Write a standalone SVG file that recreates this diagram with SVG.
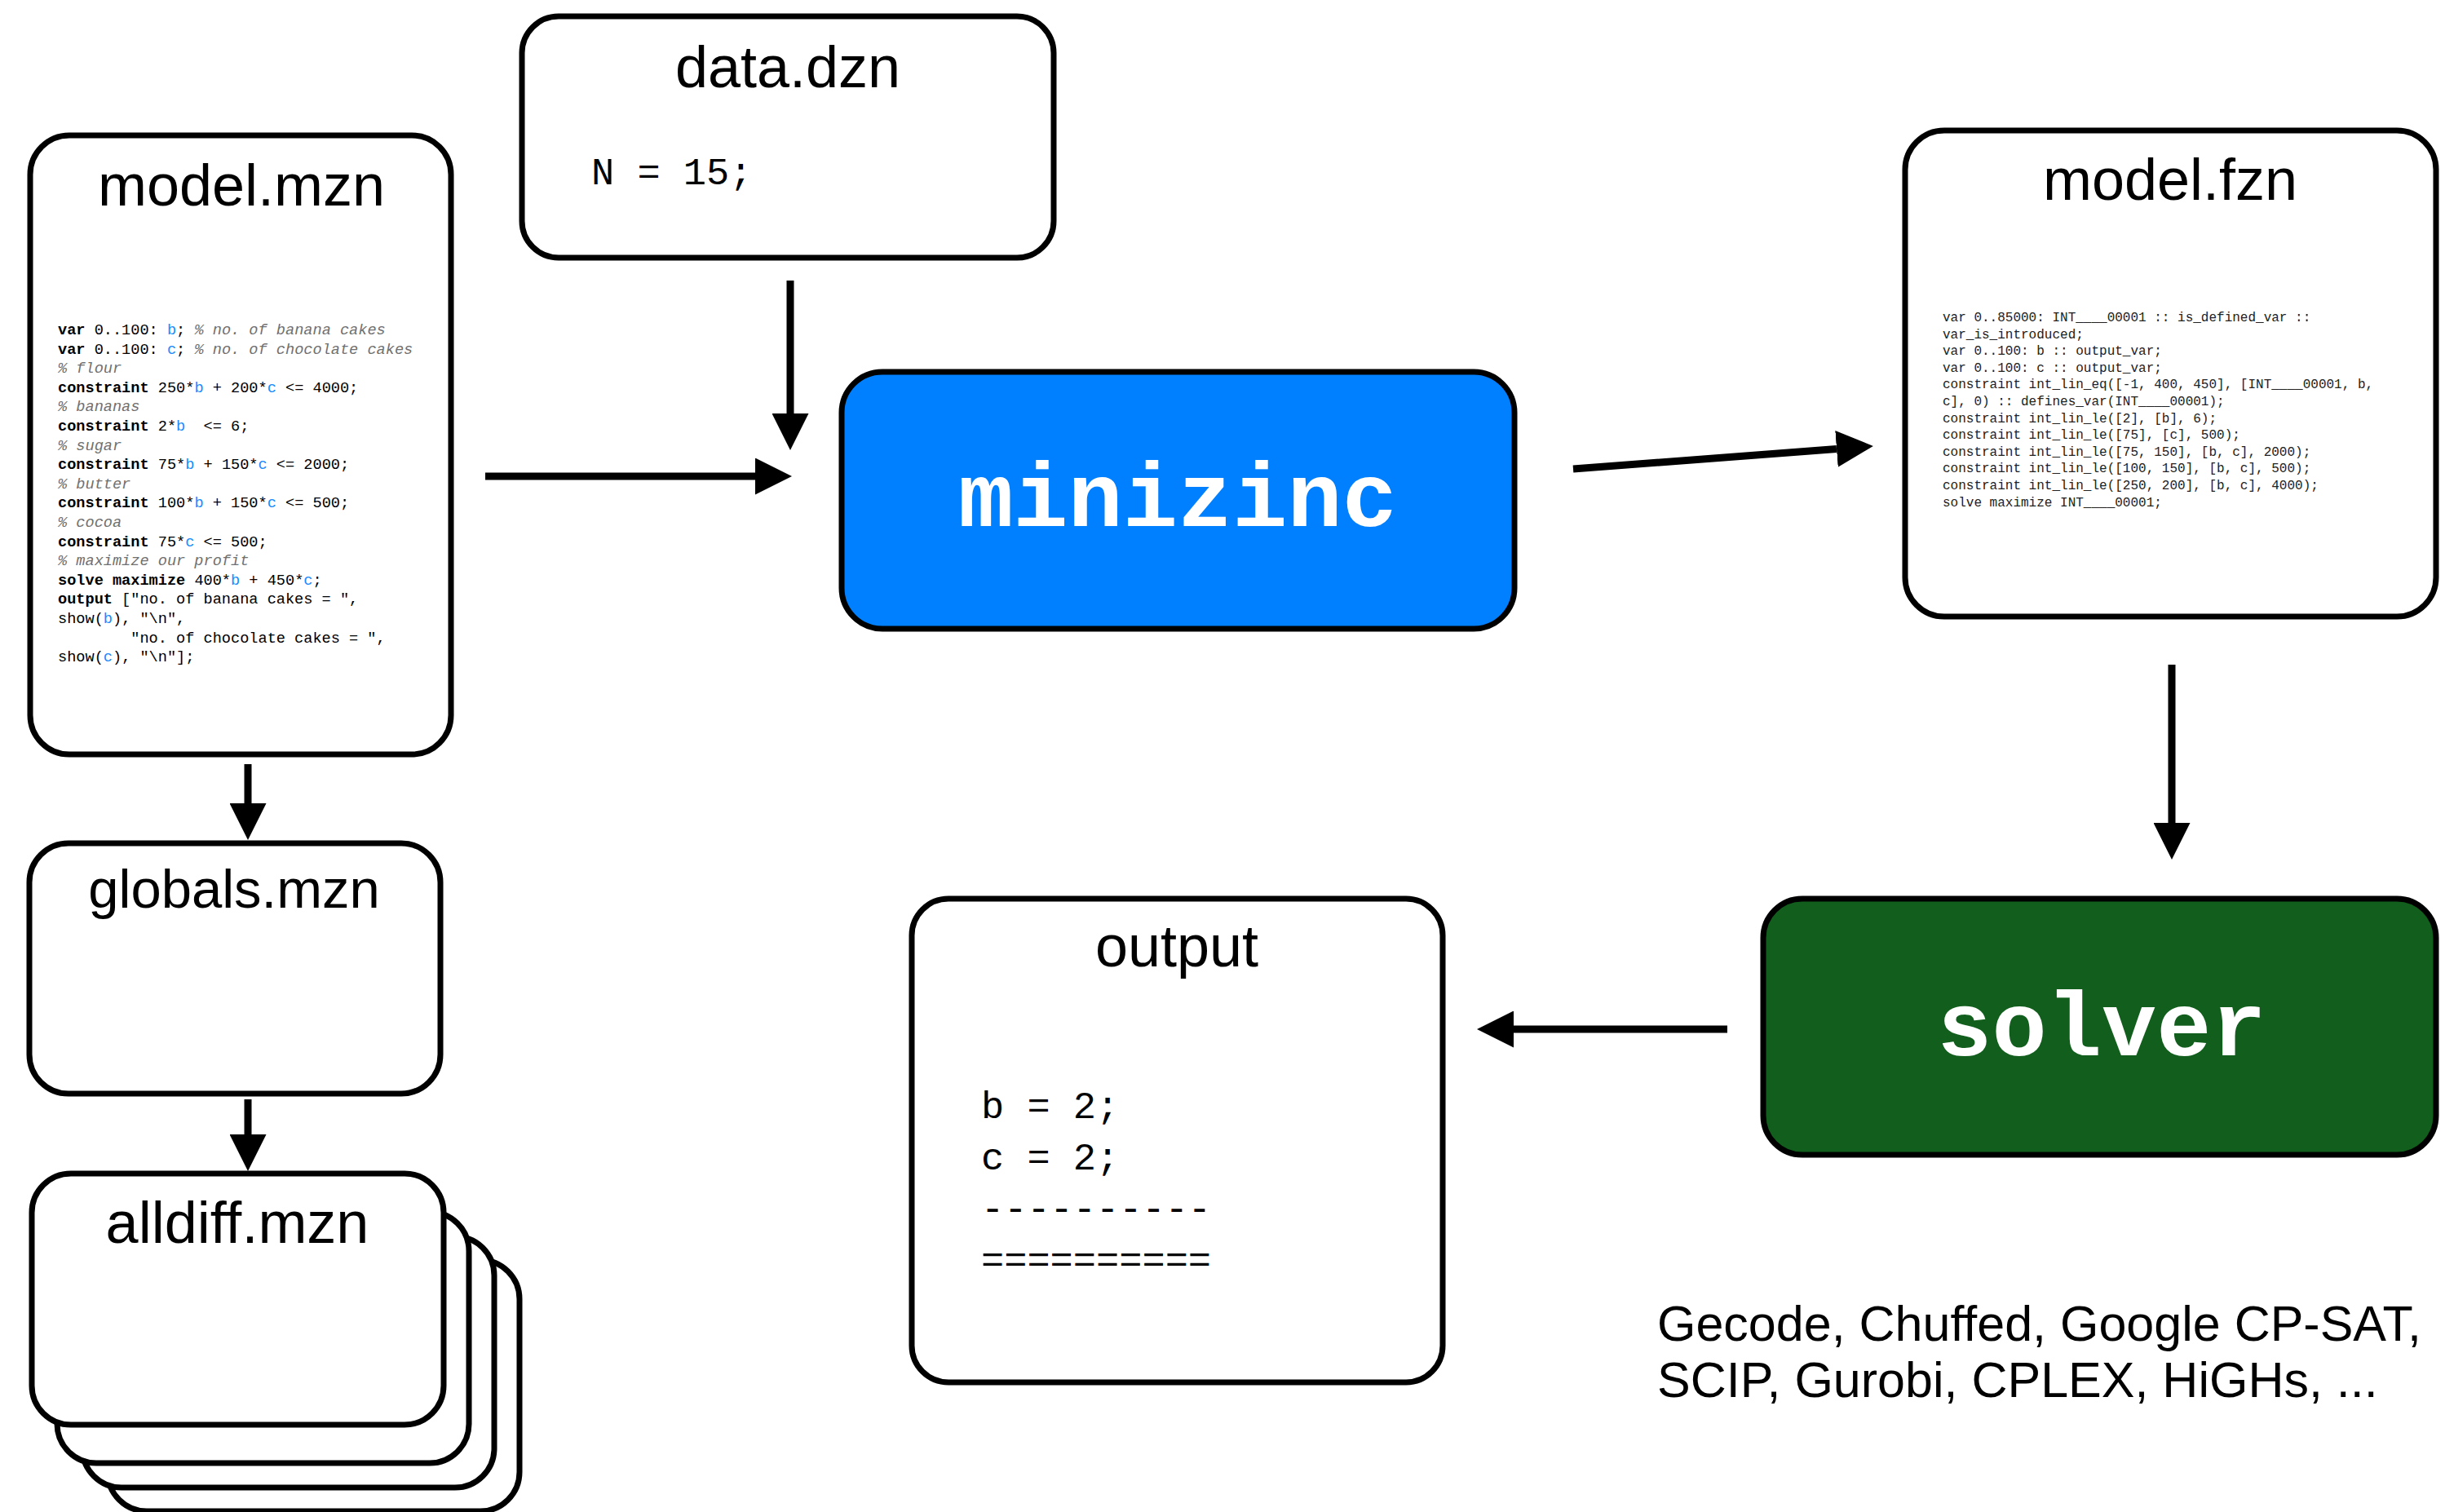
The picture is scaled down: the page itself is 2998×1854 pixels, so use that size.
<svg xmlns="http://www.w3.org/2000/svg" width="2998" height="1854" viewBox="0 0 2998 1854">
<style>
.box{fill:#ffffff;stroke:#000000;stroke-width:7}
.title{font-family:"Liberation Sans",Arial,Helvetica,sans-serif;font-size:72px;fill:#000000;text-anchor:middle}
.code{font-family:"Liberation Mono","Courier New",monospace;fill:#000000}
.mzn{font-size:18.6px}
.kw{font-weight:bold}
.var{fill:#1a8cff}
.cm{fill:#707070;font-style:italic}
.fzn{font-size:16px;fill:#222222}
.big{font-size:47px}
.tool{font-family:"Liberation Mono","Courier New",monospace;font-weight:bold;font-size:112px;fill:#ffffff;text-anchor:middle}
.edge{fill:none;stroke:#000000;stroke-width:9}
.note{font-family:"Liberation Sans",Arial,Helvetica,sans-serif;font-size:61px;fill:#000000}
</style>
<defs>
<marker id="head" markerUnits="userSpaceOnUse" viewBox="0 0 45 45" markerWidth="45" markerHeight="45" refX="0" refY="22.5" orient="auto">
<path d="M0,0 L45,22.5 L0,45 Z" fill="#000000"/>
</marker>
</defs>
<rect x="0" y="0" width="2998" height="1854" fill="#ffffff"/>

<g id="model-mzn">
<rect class="box" x="37" y="166" width="516" height="759" rx="48"/>
<text class="title" x="296" y="252">model.mzn</text>
<g class="code mzn">
<text x="71" y="410"><tspan class="kw">var</tspan> 0..100: <tspan class="var">b</tspan>; <tspan class="cm">% no. of banana cakes</tspan></text>
<text x="71" y="433.6"><tspan class="kw">var</tspan> 0..100: <tspan class="var">c</tspan>; <tspan class="cm">% no. of chocolate cakes</tspan></text>
<text x="71" y="457.2"><tspan class="cm">% flour</tspan></text>
<text x="71" y="480.8"><tspan class="kw">constraint</tspan> 250*<tspan class="var">b</tspan> + 200*<tspan class="var">c</tspan> &lt;= 4000;</text>
<text x="71" y="504.4"><tspan class="cm">% bananas</tspan></text>
<text x="71" y="528"><tspan class="kw">constraint</tspan> 2*<tspan class="var">b</tspan>&#160; &lt;= 6;</text>
<text x="71" y="551.6"><tspan class="cm">% sugar</tspan></text>
<text x="71" y="575.2"><tspan class="kw">constraint</tspan> 75*<tspan class="var">b</tspan> + 150*<tspan class="var">c</tspan> &lt;= 2000;</text>
<text x="71" y="598.8"><tspan class="cm">% butter</tspan></text>
<text x="71" y="622.4"><tspan class="kw">constraint</tspan> 100*<tspan class="var">b</tspan> + 150*<tspan class="var">c</tspan> &lt;= 500;</text>
<text x="71" y="646"><tspan class="cm">% cocoa</tspan></text>
<text x="71" y="669.6"><tspan class="kw">constraint</tspan> 75*<tspan class="var">c</tspan> &lt;= 500;</text>
<text x="71" y="693.2"><tspan class="cm">% maximize our profit</tspan></text>
<text x="71" y="716.8"><tspan class="kw">solve maximize</tspan> 400*<tspan class="var">b</tspan> + 450*<tspan class="var">c</tspan>;</text>
<text x="71" y="740.4"><tspan class="kw">output</tspan> ["no. of banana cakes = ",</text>
<text x="71" y="764">show(<tspan class="var">b</tspan>), "\n",</text>
<text x="71" y="787.6">&#160;&#160;&#160;&#160;&#160;&#160;&#160;&#160;"no. of chocolate cakes = ",</text>
<text x="71" y="811.2">show(<tspan class="var">c</tspan>), "\n"];</text>
</g>
</g>

<g id="data-dzn">
<rect class="box" x="640" y="20" width="652" height="296" rx="45"/>
<text class="title" x="966" y="107">data.dzn</text>
<text class="code big" x="725" y="226">N = 15;</text>
</g>

<g id="minizinc">
<rect x="1032" y="456" width="825" height="315" rx="50" fill="#0080ff" stroke="#000000" stroke-width="7"/>
<text class="tool" x="1444" y="645">minizinc</text>
</g>

<g id="model-fzn">
<rect class="box" x="2336" y="160" width="651" height="596" rx="48"/>
<text class="title" x="2661" y="245">model.fzn</text>
<g class="code fzn">
<text x="2382" y="394">var 0..85000: INT____00001 :: is_defined_var ::</text>
<text x="2382" y="414.6">var_is_introduced;</text>
<text x="2382" y="435.2">var 0..100: b :: output_var;</text>
<text x="2382" y="455.8">var 0..100: c :: output_var;</text>
<text x="2382" y="476.4">constraint int_lin_eq([-1, 400, 450], [INT____00001, b,</text>
<text x="2382" y="497">c], 0) :: defines_var(INT____00001);</text>
<text x="2382" y="517.6">constraint int_lin_le([2], [b], 6);</text>
<text x="2382" y="538.2">constraint int_lin_le([75], [c], 500);</text>
<text x="2382" y="558.8">constraint int_lin_le([75, 150], [b, c], 2000);</text>
<text x="2382" y="579.4">constraint int_lin_le([100, 150], [b, c], 500);</text>
<text x="2382" y="600">constraint int_lin_le([250, 200], [b, c], 4000);</text>
<text x="2382" y="620.6">solve maximize INT____00001;</text>
</g>
</g>

<g id="solver">
<rect x="2162" y="1102" width="825" height="314" rx="48" fill="#115e1d" stroke="#000000" stroke-width="7"/>
<text class="tool" x="2577" y="1294">solver</text>
</g>
<g id="solver-list">
<text class="note" x="2032" y="1644">Gecode, Chuffed, Google CP-SAT,</text>
<text class="note" x="2032" y="1713">SCIP, Gurobi, CPLEX, HiGHs, ...</text>
</g>

<g id="output">
<rect class="box" x="1118" y="1102" width="651" height="593" rx="45"/>
<text class="title" x="1443" y="1185">output</text>
<g class="code big">
<text x="1203" y="1371">b = 2;</text>
<text x="1203" y="1434">c = 2;</text>
<text x="1203" y="1497">----------</text>
<text x="1203" y="1560">==========</text>
</g>
</g>

<g id="globals-mzn">
<rect class="box" x="36" y="1034" width="504" height="307" rx="48"/>
<text class="title" x="287" y="1113" style="font-size:67px">globals.mzn</text>
</g>

<g id="alldiff-mzn">
<rect class="box" x="132" y="1545" width="505" height="308" rx="48"/>
<rect class="box" x="101" y="1516" width="505" height="308" rx="48"/>
<rect class="box" x="70" y="1486" width="505" height="308" rx="48"/>
<rect class="box" x="39" y="1439" width="505" height="308" rx="48"/>
<text class="title" x="291" y="1524">alldiff.mzn</text>
</g>

<g id="connectors">
<path class="edge" d="M595,584 H926" marker-end="url(#head)"/>
<path class="edge" d="M969,344 V507" marker-end="url(#head)"/>
<path class="edge" d="M1929,575 L2252,550.4" marker-end="url(#head)"/>
<path class="edge" d="M2663,815 V1009" marker-end="url(#head)"/>
<path class="edge" d="M2118,1262 H1856" marker-end="url(#head)"/>
<path class="edge" d="M304,937 V985" marker-end="url(#head)"/>
<path class="edge" d="M304,1348 V1391" marker-end="url(#head)"/>
</g>
</svg>
